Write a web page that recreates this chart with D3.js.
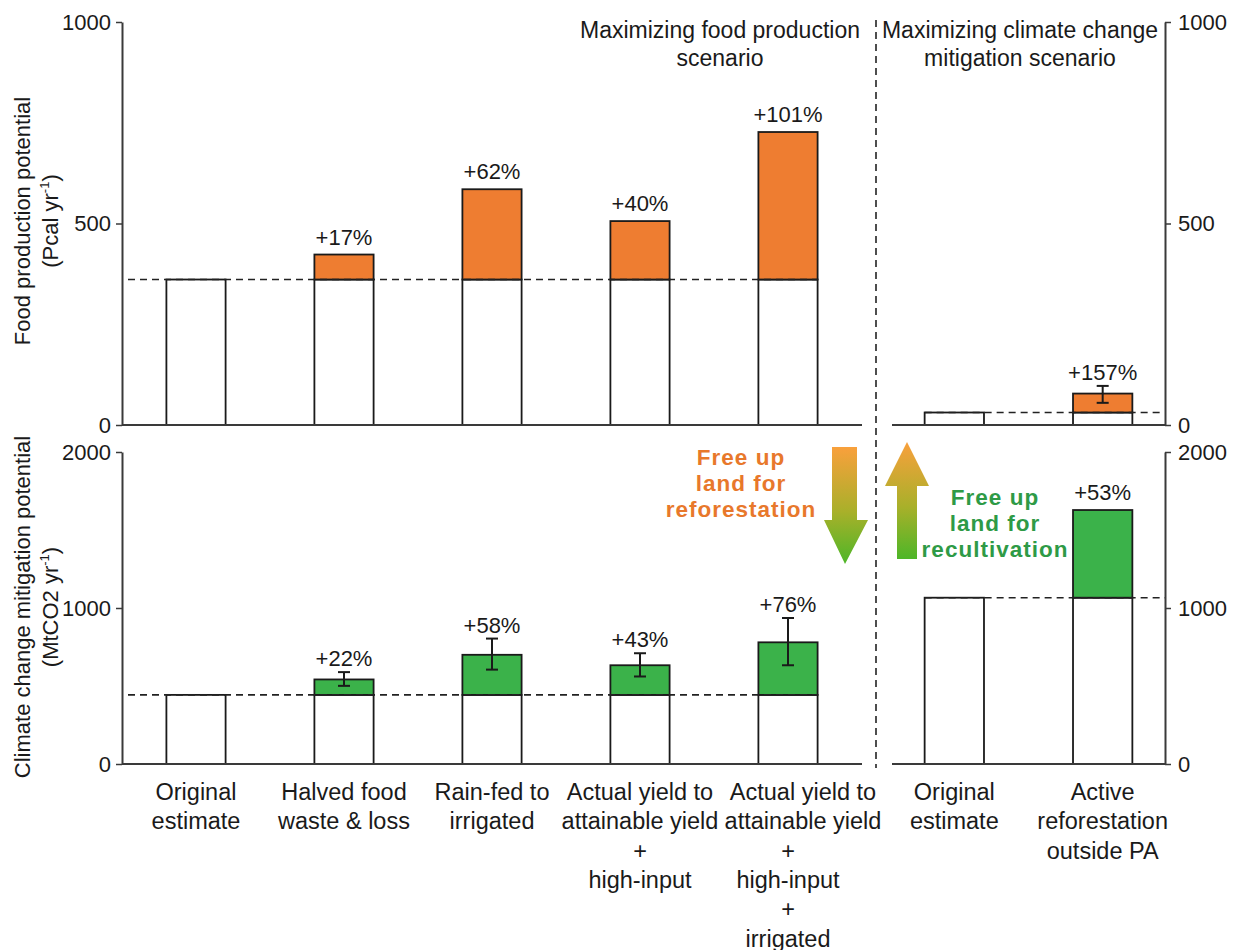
<!DOCTYPE html>
<html>
<head>
<meta charset="utf-8">
<script src="https://cdn.jsdelivr.net/npm/d3@7"></script>
<style>
  html, body { margin: 0; padding: 0; background: #fff; }
  svg { display: block; font-family: "Liberation Sans", Arial, Helvetica, sans-serif; }
</style>
</head>
<body>
<svg id="chart" width="1237" height="950"></svg>
<script>
// ---------------- DATA ----------------
const leftCategories = [
  ["Original", "estimate"],
  ["Halved food", "waste & loss"],
  ["Rain-fed to", "irrigated"],
  ["Actual yield to", "attainable yield", "+", "high-input"],
  ["Actual yield to", "attainable yield", "+", "high-input", "+", "irrigated"]
];
const rightCategories = [
  ["Original", "estimate"],
  ["Active", "reforestation", "outside PA"]
];

// Food production potential (Pcal yr-1), maximizing food production scenario
const foodBaseLeft = 361;
const foodTotalsLeft = [361, 423, 585, 506, 727];
const foodPctLeft = ["", "+17%", "+62%", "+40%", "+101%"];

// Climate change mitigation potential (MtCO2 yr-1), maximizing food production scenario
const climBaseLeft = 443;
const climTotalsLeft = [443, 542, 700, 633, 780];
const climErrLowLeft = [null, 501, 605, 561, 633];
const climErrHighLeft = [null, 589, 804, 710, 936];
const climPctLeft = ["", "+22%", "+58%", "+43%", "+76%"];

// Maximizing climate change mitigation scenario
const foodBaseRight = 31;
const foodTotalsRight = [31, 78];
const foodErrLowRight = [null, 55];
const foodErrHighRight = [null, 97];
const foodPctRight = ["", "+157%"];

const climBaseRight = 1066;
const climTotalsRight = [1066, 1628];
const climPctRight = ["", "+53%"];

const foodTicks = [0, 500, 1000];
const climTicks = [0, 1000, 2000];

// ---------------- LAYOUT ----------------
const svg = d3.select("#chart");
const ORANGE = "#ee7d31", GREEN = "#3bb24a", INK = "#1a1a1a", AXIS = "#3a3a3a";
const leftAxisX = 122, rightAxisX = 1165;
const leftPanel = [122, 862], rightPanel = [892, 1165];
const topRange = [425, 22], botRange = [764, 452];

const idxL = d3.range(leftCategories.length), idxR = d3.range(rightCategories.length);
const xL = d3.scaleBand().domain(idxL).range(leftPanel).paddingInner(0.6).paddingOuter(0.3);
const xR = d3.scaleBand().domain(idxR).range(rightPanel).paddingInner(0.6).paddingOuter(0.22);
const yFood = d3.scaleLinear().domain([0, 1000]).range(topRange);
const yClim = d3.scaleLinear().domain([0, 2000]).range(botRange);

// gradient for arrows
const defs = svg.append("defs");
const grad = defs.append("linearGradient").attr("id", "arrowGrad")
  .attr("x1", 0).attr("y1", 0).attr("x2", 0).attr("y2", 1);
grad.append("stop").attr("offset", "0%").attr("stop-color", "#f9a03c");
grad.append("stop").attr("offset", "55%").attr("stop-color", "#a9b02a");
grad.append("stop").attr("offset", "100%").attr("stop-color", "#4db628");

// ---------------- PANEL DRAWING ----------------
function panel(opts) {
  const { x, y, base, totals, pct, fill, errLow, errHigh, axisX, side, ticks, dashFrom, dashTo } = opts;
  const g = svg.append("g");
  const idx = x.domain();

  g.selectAll(".base").data(idx).join("rect")
    .attr("x", i => x(i)).attr("width", x.bandwidth())
    .attr("y", y(base)).attr("height", y(0) - y(base))
    .attr("fill", "#fff").attr("stroke", INK).attr("stroke-width", 1.8);

  const inc = idx.filter(i => totals[i] > base);
  g.selectAll(".inc").data(inc).join("rect")
    .attr("x", i => x(i)).attr("width", x.bandwidth())
    .attr("y", i => y(totals[i])).attr("height", i => y(base) - y(totals[i]))
    .attr("fill", fill).attr("stroke", INK).attr("stroke-width", 1.8);

  g.append("line")
    .attr("x1", dashFrom).attr("x2", dashTo)
    .attr("y1", y(base)).attr("y2", y(base))
    .attr("stroke", "#222").attr("stroke-width", 1.6).attr("stroke-dasharray", "7,5");

  const withErr = errLow ? idx.filter(i => errLow[i] != null) : [];
  const eg = g.selectAll(".err").data(withErr).join("g")
    .attr("stroke", INK).attr("stroke-width", 2);
  eg.append("line")
    .attr("x1", i => x(i) + x.bandwidth() / 2).attr("x2", i => x(i) + x.bandwidth() / 2)
    .attr("y1", i => y(errLow[i])).attr("y2", i => y(errHigh[i]));
  eg.append("line")
    .attr("x1", i => x(i) + x.bandwidth() / 2 - 6).attr("x2", i => x(i) + x.bandwidth() / 2 + 6)
    .attr("y1", i => y(errLow[i])).attr("y2", i => y(errLow[i]));
  eg.append("line")
    .attr("x1", i => x(i) + x.bandwidth() / 2 - 6).attr("x2", i => x(i) + x.bandwidth() / 2 + 6)
    .attr("y1", i => y(errHigh[i])).attr("y2", i => y(errHigh[i]));

  g.selectAll(".pct").data(inc).join("text")
    .attr("x", i => x(i) + x.bandwidth() / 2)
    .attr("y", i => (errHigh && errHigh[i] != null) ? y(errHigh[i]) - 6 : y(totals[i]) - 10)
    .attr("text-anchor", "middle").attr("font-size", 22).attr("fill", INK)
    .text(i => pct[i]);

  g.append("line")
    .attr("x1", x.range()[0]).attr("x2", x.range()[1])
    .attr("y1", y(0)).attr("y2", y(0))
    .attr("stroke", AXIS).attr("stroke-width", 2);

  const axis = (side === "left" ? d3.axisLeft(y) : d3.axisRight(y))
    .tickValues(ticks).tickFormat(d3.format("d")).tickSize(6).tickSizeOuter(0)
    .tickPadding(side === "left" ? 5 : 7);
  const ag = g.append("g").attr("transform", `translate(${axisX},0)`).call(axis);
  ag.select(".domain").attr("stroke", AXIS).attr("stroke-width", 2);
  ag.selectAll(".tick line").attr("stroke", AXIS).attr("stroke-width", 1.5);
  ag.selectAll(".tick text").attr("font-size", 22).attr("fill", INK)
    .attr("font-family", "'Liberation Sans', Arial, sans-serif");
}

panel({ x: xL, y: yFood, base: foodBaseLeft, totals: foodTotalsLeft, pct: foodPctLeft, fill: ORANGE,
        axisX: leftAxisX, side: "left", ticks: foodTicks,
        dashFrom: leftAxisX + 6, dashTo: xL(idxL[idxL.length - 1]) + xL.bandwidth() });
panel({ x: xL, y: yClim, base: climBaseLeft, totals: climTotalsLeft, pct: climPctLeft, fill: GREEN,
        errLow: climErrLowLeft, errHigh: climErrHighLeft,
        axisX: leftAxisX, side: "left", ticks: climTicks,
        dashFrom: leftAxisX + 6, dashTo: xL(idxL[idxL.length - 1]) + xL.bandwidth() });
panel({ x: xR, y: yFood, base: foodBaseRight, totals: foodTotalsRight, pct: foodPctRight, fill: ORANGE,
        errLow: foodErrLowRight, errHigh: foodErrHighRight,
        axisX: rightAxisX, side: "right", ticks: foodTicks,
        dashFrom: xR(0), dashTo: rightAxisX - 3 });
panel({ x: xR, y: yClim, base: climBaseRight, totals: climTotalsRight, pct: climPctRight, fill: GREEN,
        axisX: rightAxisX, side: "right", ticks: climTicks,
        dashFrom: xR(0), dashTo: rightAxisX });

// vertical divider
svg.append("line").attr("x1", 876).attr("x2", 876).attr("y1", 20).attr("y2", 768)
  .attr("stroke", "#222").attr("stroke-width", 1.6).attr("stroke-dasharray", "7,5");

// category labels (first two lines of the last left label are nudged right to avoid overlap)
function catLabels(x, cats, nudgeLast) {
  const last = x.domain().length - 1;
  svg.append("g").selectAll("text").data(x.domain()).join("text")
    .attr("text-anchor", "middle").attr("font-size", 23.5).attr("fill", INK)
    .each(function (i) {
      const t = d3.select(this);
      cats[i].forEach((line, k) => {
        const dx = (nudgeLast && i === last && k < 2) ? 15 : 0;
        t.append("tspan").attr("x", x(i) + x.bandwidth() / 2 + dx)
          .attr("y", 800 + k * 29.3).text(line);
      });
    });
}
catLabels(xL, leftCategories, true);
catLabels(xR, rightCategories, false);

// scenario headings
function heading(cx, lines) {
  const t = svg.append("text").attr("text-anchor", "middle").attr("font-size", 23).attr("fill", INK);
  lines.forEach((l, k) => t.append("tspan").attr("x", cx).attr("y", 38 + k * 28).text(l));
}
heading(720, ["Maximizing food production", "scenario"]);
heading(1020, ["Maximizing climate change", "mitigation scenario"]);

// y-axis titles
function yTitle(cy, line1, unit) {
  const g = svg.append("g").attr("transform", `translate(0,${cy}) rotate(-90)`);
  g.append("text").attr("x", 0).attr("y", 30).attr("text-anchor", "middle")
    .attr("font-size", 22).attr("fill", INK).text(line1);
  const t = g.append("text").attr("x", 0).attr("y", 58).attr("text-anchor", "middle")
    .attr("font-size", 22).attr("fill", INK);
  t.append("tspan").text("(" + unit + " yr");
  t.append("tspan").attr("font-size", 13).attr("dy", -9).text("-1");
  t.append("tspan").attr("dy", 9).text(")");
}
yTitle(221, "Food production potential", "Pcal");
yTitle(607, "Climate change mitigation potential", "MtCO2");

// arrows
function arrow(pts) {
  svg.append("path").attr("d", d3.line()(pts) + "Z").attr("fill", "url(#arrowGrad)");
}
arrow([[832, 447], [857, 447], [857, 520], [868, 520], [845, 564], [824, 520], [832, 520]]);
arrow([[897, 559], [917, 559], [917, 486], [929, 486], [907, 442], [885, 486], [897, 486]]);

// arrow captions: one text element per line, spaced so the lines do not collide
function arrowText(cx, y0, lines, color) {
  const g = svg.append("g");
  lines.forEach((l, k) => g.append("text")
    .attr("x", cx).attr("y", y0 + k * 26)
    .attr("text-anchor", "middle").attr("font-size", 22.5).attr("letter-spacing", 1)
    .attr("font-weight", "bold").attr("fill", color).text(l));
}
arrowText(741, 465, ["Free up", "land for", "reforestation"], "#e8782b");
arrowText(995, 505, ["Free up", "land for", "recultivation"], "#2e9a46");
</script>
</body>
</html>
